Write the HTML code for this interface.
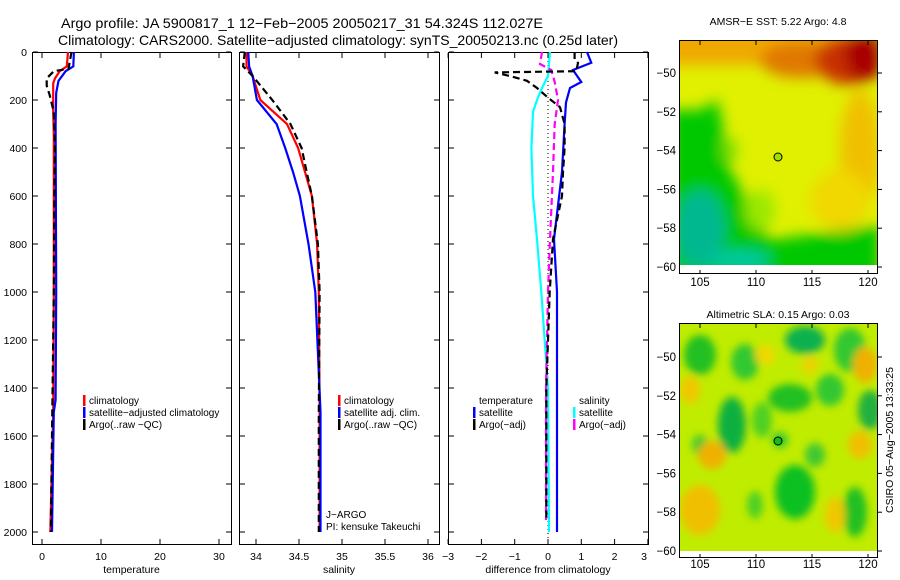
<!DOCTYPE html>
<html><head><meta charset="utf-8">
<style>
body{margin:0;background:#fff;}
svg{display:block;font-family:"Liberation Sans",sans-serif;}
text{fill:#000;}
</style></head>
<body>
<svg id="chart" width="900" height="580" viewBox="0 0 900 580">
<defs>
<filter id="blur1" x="-20%" y="-20%" width="140%" height="140%"><feGaussianBlur stdDeviation="7"/></filter>
<filter id="blur2" x="-20%" y="-20%" width="140%" height="140%"><feGaussianBlur stdDeviation="4"/></filter>
<clipPath id="clipM1"><rect x="680" y="41" width="197" height="227"/></clipPath>
<clipPath id="clipM2"><rect x="680" y="324" width="197" height="229"/></clipPath>
</defs>
<text x="61" y="28" font-size="14" textLength="482" lengthAdjust="spacingAndGlyphs">Argo profile: JA 5900817_1 12−Feb−2005 20050217_31 54.324S 112.027E</text>
<text x="58" y="45" font-size="14" textLength="560" lengthAdjust="spacingAndGlyphs">Climatology: CARS2000. Satellite−adjusted climatology: synTS_20050213.nc (0.25d later)</text>
<g id="panels"></g>
<g id="maps">
 <text x="778" y="25" font-size="10.5" text-anchor="middle">AMSR−E SST: 5.22 Argo: 4.8</text>
 <g clip-path="url(#clipM1)">
  <rect x="680" y="41" width="197" height="227" fill="#e0f000"/>
  <g filter="url(#blur1)">
   <rect x="660" y="20" width="240" height="45" fill="#f0a800"/>
   <ellipse cx="800" cy="60" rx="40" ry="18" fill="#e07800"/>
   <ellipse cx="850" cy="60" rx="35" ry="25" fill="#c83000"/>
   <ellipse cx="865" cy="55" rx="20" ry="25" fill="#a80000"/>
   <ellipse cx="860" cy="150" rx="20" ry="60" fill="#f0c000"/>
   <ellipse cx="840" cy="200" rx="30" ry="30" fill="#f0d800"/>
   <polygon points="670,110 700,110 718,100 730,170 770,240 880,225 880,290 670,290" fill="#00c800"/>
   <ellipse cx="700" cy="230" rx="25" ry="40" fill="#00b890"/>
   <ellipse cx="740" cy="260" rx="30" ry="10" fill="#00c8a0"/>
   <ellipse cx="730" cy="150" rx="8" ry="12" fill="#7ae000"/>
   <ellipse cx="760" cy="210" rx="15" ry="20" fill="#9ae800"/>
  </g>
  <rect x="680" y="265" width="197" height="3" fill="#fff"/>
 </g>
 <rect x="679.5" y="40.5" width="198" height="233" fill="none" stroke="#000"/>
 <circle cx="778" cy="157" r="4" fill="#a0e000" stroke="#000"/>

 <text x="778" y="318" font-size="10.5" text-anchor="middle">Altimetric SLA: 0.15 Argo: 0.03</text>
 <g clip-path="url(#clipM2)">
  <rect x="680" y="324" width="197" height="229" fill="#c0ec00"/>
  <g filter="url(#blur2)">
   <ellipse cx="700" cy="355" rx="16" ry="20" fill="#20c020"/>
   <ellipse cx="745" cy="362" rx="14" ry="18" fill="#30c830"/>
   <ellipse cx="805" cy="340" rx="20" ry="14" fill="#10b050"/>
   <ellipse cx="850" cy="350" rx="16" ry="22" fill="#30c830"/>
   <ellipse cx="790" cy="398" rx="22" ry="14" fill="#20c020"/>
   <ellipse cx="830" cy="390" rx="14" ry="16" fill="#30c830"/>
   <ellipse cx="732" cy="425" rx="14" ry="28" fill="#10b040"/>
   <ellipse cx="870" cy="410" rx="12" ry="20" fill="#20b040"/>
   <ellipse cx="795" cy="492" rx="20" ry="27" fill="#10c020"/>
   <ellipse cx="855" cy="512" rx="12" ry="25" fill="#20c020"/>
   <ellipse cx="780" cy="440" rx="8" ry="8" fill="#30c830"/>
   <ellipse cx="815" cy="455" rx="10" ry="12" fill="#40c830"/>
   <ellipse cx="700" cy="445" rx="8" ry="10" fill="#40c830"/>
   <ellipse cx="755" cy="505" rx="8" ry="14" fill="#50d020"/>
   <ellipse cx="762" cy="420" rx="10" ry="18" fill="#50d020"/>
   <ellipse cx="690" cy="390" rx="10" ry="14" fill="#f0c800"/>
   <ellipse cx="712" cy="455" rx="14" ry="14" fill="#f0b000"/>
   <ellipse cx="700" cy="510" rx="20" ry="25" fill="#f0c000"/>
   <ellipse cx="865" cy="365" rx="12" ry="18" fill="#f0b000"/>
   <ellipse cx="860" cy="445" rx="12" ry="14" fill="#f0c000"/>
   <ellipse cx="835" cy="515" rx="10" ry="18" fill="#f0c800"/>
   <ellipse cx="765" cy="355" rx="10" ry="10" fill="#f0d800"/>
   <ellipse cx="810" cy="365" rx="8" ry="8" fill="#f0d000"/>
  </g>
  <rect x="680" y="551" width="197" height="3" fill="#fff"/>
 </g>
 <rect x="679.5" y="323.5" width="198" height="234" fill="none" stroke="#000"/>
 <circle cx="778" cy="441" r="4" fill="#10c010" stroke="#000"/>
 <text transform="translate(893,440) rotate(-90)" font-size="10.5" text-anchor="middle">CSIRO 05−Aug−2005 13:33:25</text>
 <g id="mapaxes"></g>
</g>
</svg>
<script>
// depths (m)
const depthsT = [0, 60, 80, 110, 130, 250, 350, 500, 1000, 1500, 2000];
const tempClim = [4.4, 4.2, 3.0, 2.2, 1.9, 1.9, 2.0, 2.0, 2.0, 1.9, 1.4];
const depthsTS = [0, 60, 80, 120, 170, 300, 1000, 1450, 1500, 2000];
const tempSat = [5.4, 5.3, 4.0, 2.8, 2.4, 2.3, 2.4, 2.3, 2.0, 1.7];
const depthsTA = [0, 70, 80, 110, 140, 180, 250, 400, 600, 1000, 1400, 1800, 2000];
const tempArgo = [5.0, 4.5, 2.0, 0.8, 0.8, 1.3, 2.0, 2.2, 2.1, 2.0, 1.8, 1.6, 1.5];

const depthsS = [0, 60, 100, 200, 300, 400, 500, 600, 800, 1000, 1500, 2000];
const salClim = [33.89, 33.89, 33.96, 34.05, 34.36, 34.49, 34.57, 34.65, 34.71, 34.73, 34.74, 34.74];
const salSat = [33.91, 33.92, 33.96, 34.01, 34.24, 34.34, 34.43, 34.51, 34.61, 34.69, 34.75, 34.75];
const salArgo = [33.87, 33.85, 33.96, 34.19, 34.40, 34.53, 34.59, 34.65, 34.72, 34.74, 34.73, 34.73];

const depthsDT = [0, 45, 75, 125, 150, 210, 300, 500, 780, 1000, 1500, 2000];
const dTempSat = [1.17, 1.3, 0.75, 1.0, 0.66, 0.54, 0.5, 0.42, 0.18, 0.27, 0.27, 0.27];
const depthsDA = [0, 30, 45, 80, 85, 100, 120, 150, 190, 230, 300, 400, 500, 600, 780, 1000, 1400, 1800, 1950];
const dTempArgo = [0.8, 0.8, 0.9, 0.85, -1.6, -1.15, -0.63, -0.33, 0, 0.36, 0.5, 0.5, 0.45, 0.42, 0.15, 0.05, -0.05, -0.05, -0.05];
const depthsDS = [0, 100, 150, 200, 250, 400, 600, 780, 1000, 1400, 2000];
const dSalSat = [0.06, 0, -0.18, -0.33, -0.45, -0.5, -0.45, -0.33, -0.2, 0, 0.03];
const depthsDM = [0, 50, 75, 125, 200, 300, 500, 780, 1000, 1400, 1950];
const dSalArgo = [-0.18, -0.24, 0.1, 0.2, 0.3, 0.2, 0.15, 0.06, 0.0, -0.06, -0.06];

const depthTicks = [0, 200, 400, 600, 800, 1000, 1200, 1400, 1600, 1800, 2000];
const tempTicks = [0, 10, 20, 30];
const salTicks = [34, 34.5, 35, 35.5, 36];
const diffTicks = [-3, -2, -1, 0, 1, 2, 3];
const lonTicks = [105, 110, 115, 120];
const latTicks = [-50, -52, -54, -56, -58, -60];

const NS = 'http://www.w3.org/2000/svg';
const yD = d => 52 + d * 0.24;
const xT = t => 42 + t * 5.9;
const xS = s => 256 + (s - 34) * 86;
const xDf = v => 548 + v * 33.3;
const lonX = l => 700 + (l - 105) * 11.2;
const latY1 = l => 73 + (-50 - l) * 19.4;
const latY2 = l => 357 + (-50 - l) * 19.4;

function mk(tag, attrs, parent) {
  const e = document.createElementNS(NS, tag);
  for (const k in attrs) e.setAttribute(k, attrs[k]);
  parent.appendChild(e);
  return e;
}
const panels = document.getElementById('panels');

function line(xs, ds, xf, color, dash, name) {
  const pts = xs.map((v, i) => xf(v).toFixed(1) + ',' + yD(ds[i]).toFixed(1)).join(' ');
  const p = mk('polyline', {points: pts, fill: 'none', stroke: color, 'stroke-width': 2.2}, panels);
  if (dash) p.setAttribute('stroke-dasharray', dash);
  
  
}

function panel(x0, x1, ticks, xf, label, showY, name) {
  const g = mk('g', {}, panels);
  
  
  mk('rect', {x: x0 + 0.5, y: 52.5, width: x1 - x0, height: 492, fill: 'none', stroke: '#000'}, g);
  ticks.forEach(t => {
    const x = xf(t);
    if (x > x0 && x < x1) {
      mk('line', {x1: x, x2: x, y1: 53, y2: 58, stroke: '#000'}, g);
      mk('line', {x1: x, x2: x, y1: 544, y2: 539, stroke: '#000'}, g);
    }
    const tx = mk('text', {x: Math.min(x, x1 - 4), y: 560, 'font-size': 10.5, 'text-anchor': 'middle'}, g);
    tx.textContent = String(t).replace('-', '−');
    
    
  });
  depthTicks.forEach(d => {
    mk('line', {x1: x0 + 1, x2: x0 + 6, y1: yD(d), y2: yD(d), stroke: '#000'}, g);
    mk('line', {x1: x1, x2: x1 - 5, y1: yD(d), y2: yD(d), stroke: '#000'}, g);
    if (showY) {
      const tx = mk('text', {x: 27, y: yD(d) + 4, 'font-size': 10.5, 'text-anchor': 'end'}, g);
      tx.textContent = d;
      
      
    }
  });
  const lb = mk('text', {x: (x0 + x1) / 2, y: 573, 'font-size': 10.5, 'text-anchor': 'middle'}, g);
  lb.textContent = label;
  
  
}
panel(32, 231, tempTicks, xT, 'temperature', true, 'temperature-panel');
panel(239, 439, salTicks, xS, 'salinity', false, 'salinity-panel');
panel(448, 648, diffTicks, xDf, 'difference from climatology', false, 'difference-panel');

line(tempClim, depthsT, xT, '#ff0000', null, 'temp-climatology-line');
line(tempSat, depthsTS, xT, '#0000ff', null, 'temp-satellite-line');
line(tempArgo, depthsTA, xT, '#000', '7,4', 'temp-argo-line');
line(salClim, depthsS, xS, '#ff0000', null, 'sal-climatology-line');
line(salSat, depthsS, xS, '#0000ff', null, 'sal-satellite-line');
line(salArgo, depthsS, xS, '#000', '7,4', 'sal-argo-line');
const z = mk('line', {x1: xDf(0), x2: xDf(0), y1: 53, y2: 544, stroke: '#000', 'stroke-dasharray': '1,3'}, panels);


line(dSalSat, depthsDS, xDf, '#00ffff', null, 'diff-sal-satellite-line');
line(dSalArgo, depthsDM, xDf, '#ff00ff', '7,4', 'diff-sal-argo-line');
line(dTempSat, depthsDT, xDf, '#0000ff', null, 'diff-temp-satellite-line');
line(dTempArgo, depthsDA, xDf, '#000', '7,4', 'diff-temp-argo-line');

function legend(x, y, items, name) {
  const g = mk('g', {}, panels);
  
  
  items.forEach((it, i) => {
    const yy = y + i * 12;
    if (it[0]) mk('rect', {x: x, y: yy - 9, width: 2.5, height: 11, fill: it[0]}, g);
    const t = mk('text', {x: x + 6, y: yy, 'font-size': 10}, g);
    t.textContent = it[1];
    
    
  });
}
legend(83, 404, [['#ff0000', 'climatology'], ['#0000ff', 'satellite−adjusted climatology'], ['#000', 'Argo(..raw −QC)']], 'temp-legend');
legend(338, 404, [['#ff0000', 'climatology'], ['#0000ff', 'satellite adj. clim.'], ['#000', 'Argo(..raw −QC)']], 'sal-legend');
legend(473, 404, [[null, 'temperature'], ['#0000ff', 'satellite'], ['#000', 'Argo(−adj)']], 'diff-temp-legend');
legend(573, 404, [[null, 'salinity'], ['#00ffff', 'satellite'], ['#ff00ff', 'Argo(−adj)']], 'diff-sal-legend');
const t1 = mk('text', {x: 326, y: 518, 'font-size': 10}, panels);
t1.textContent = 'J−ARGO';


const t2 = mk('text', {x: 326, y: 530, 'font-size': 10}, panels);
t2.textContent = 'PI: kensuke Takeuchi';



const ma = document.getElementById('mapaxes');
[[latY1, 41, 274, 286], [latY2, 324, 558, 568]].forEach(([yf, top, bot, ly]) => {
  lonTicks.forEach(l => {
    const x = lonX(l);
    mk('line', {x1: x, x2: x, y1: top, y2: top + 4, stroke: '#000'}, ma);
    mk('line', {x1: x, x2: x, y1: bot, y2: bot - 4, stroke: '#000'}, ma);
    const t = mk('text', {x: x, y: ly, 'font-size': 11.5, 'text-anchor': 'middle'}, ma);
    t.textContent = l;
    
    
  });
  latTicks.forEach(l => {
    const y = yf(l);
    mk('line', {x1: 877, x2: 882, y1: y, y2: y, stroke: '#000'}, ma);
    const t = mk('text', {x: 676, y: y + 4, 'font-size': 11.5, 'text-anchor': 'end'}, ma);
    t.textContent = String(l).replace('-', '−');
    
    
  });
});
</script>
</body></html>
